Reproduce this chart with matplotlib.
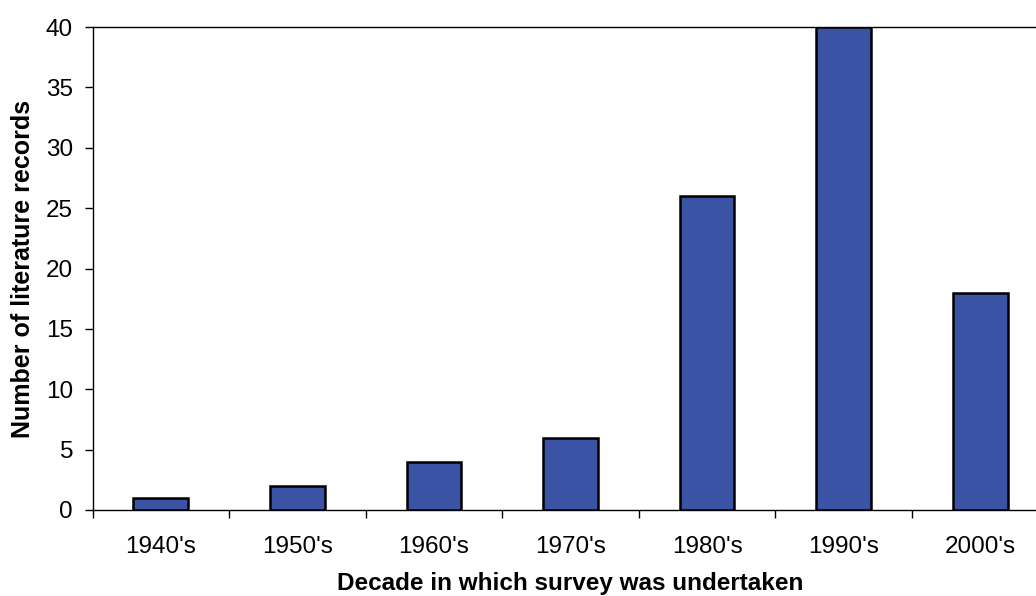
import matplotlib
matplotlib.use("Agg")
import matplotlib.pyplot as plt

decades = ["1940's", "1950's", "1960's", "1970's", "1980's", "1990's", "2000's"]
records = [1, 2, 4, 6, 26, 40, 18]

plt.rcParams['font.family'] = ['Liberation Sans', 'DejaVu Sans']

W, H = 1036, 596
fig = plt.figure(figsize=(W / 100, H / 100), dpi=100)
left, right, top, bottom = 92.5, 1048.5, 27, 510
ax = fig.add_axes([left / W, 1 - bottom / H, (right - left) / W, (bottom - top) / H])

x = list(range(len(decades)))
ax.bar(x, records, width=0.40, color='#3A53A4', edgecolor='black', linewidth=1.8, zorder=3)

ax.set_xlim(-0.5, len(decades) - 0.5)
ax.set_ylim(0, 40)
ax.set_yticks(range(0, 41, 5))
ax.set_xticks(x)
ax.set_xticklabels(decades)
ax.set_xticks([i - 0.5 for i in range(len(decades) + 1)], minor=True)
ax.tick_params(axis='x', which='major', length=0, pad=19, labelsize=17.5)
ax.tick_params(axis='x', which='minor', length=6, width=1, direction='out')
ax.tick_params(axis='y', length=6, width=1, direction='out', labelsize=17.5, pad=8)

for s in ['left', 'bottom', 'top']:
    ax.spines[s].set_linewidth(1.0)
ax.spines['right'].set_visible(False)

ax.set_xlabel("Decade in which survey was undertaken", fontsize=17.5, fontweight='bold', labelpad=10)
ax.set_ylabel("Number of literature records", fontsize=18, fontweight='bold', labelpad=8)

fig.savefig("out.png", dpi=100)
